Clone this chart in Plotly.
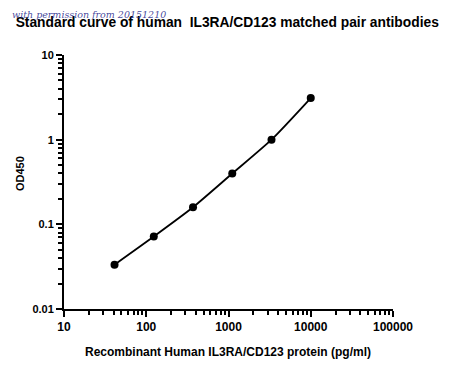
import plotly.graph_objects as go

conc = [41.15, 123.5, 370.4, 1111, 3333, 10000]
od450 = [0.0334, 0.0718, 0.159, 0.398, 1.0, 3.1]
x_ticks = [10, 100, 1000, 10000, 100000]
x_ticktext = ["10", "100", "1000", "10000", "100000"]
y_ticks = [0.01, 0.1, 1, 10]
y_ticktext = ["0.01", "0.1", "1", "10"]

FONT = "Liberation Sans, Arial, sans-serif"

fig = go.Figure()
fig.add_trace(go.Scatter(
    x=conc, y=od450, mode="lines+markers",
    line=dict(color="black", width=1.8, shape="spline", smoothing=0.6),
    marker=dict(color="black", size=8),
    showlegend=False,
))

fig.update_layout(
    width=450, height=365,
    margin=dict(l=64, r=57, t=55, b=56),
    paper_bgcolor="white", plot_bgcolor="white",
    font=dict(family=FONT, color="black"),
    title=dict(text="<b>Standard curve of human  IL3RA/CD123 matched pair antibodies</b>",
               x=0.505, xanchor="center", y=0.94, yanchor="middle",
               font=dict(size=13.8, family=FONT, color="black")),
)
fig.update_xaxes(
    type="log", range=[1, 5], automargin=False,
    tickvals=x_ticks, ticktext=x_ticktext,
    showline=True, linecolor="black", linewidth=2,
    ticks="outside", ticklen=6, tickwidth=2, tickcolor="black",
    minor=dict(ticks="outside", ticklen=4, tickwidth=1.5, tickcolor="black", dtick="D1", showgrid=False),
    showgrid=False, zeroline=False,
    tickfont=dict(size=12, family=FONT, color="black", weight="bold"),
)
fig.update_yaxes(
    type="log", range=[-2, 1], automargin=False,
    tickvals=y_ticks, ticktext=y_ticktext,
    showline=True, linecolor="black", linewidth=2,
    ticks="outside", ticklen=6, tickwidth=2, tickcolor="black",
    minor=dict(ticks="outside", ticklen=4, tickwidth=1.5, tickcolor="black", dtick="D1", showgrid=False),
    showgrid=False, zeroline=False,
    tickfont=dict(size=11, family=FONT, color="black", weight="bold"),
)

# axis titles
fig.add_annotation(
    text="<b>Recombinant Human IL3RA/CD123 protein (pg/ml)</b>",
    xref="paper", yref="paper", x=0.497, y=-0.171, xanchor="center", yanchor="middle",
    showarrow=False, font=dict(size=12, family=FONT, color="black"),
)
fig.add_annotation(
    text="<b>OD450</b>", textangle=-90,
    xref="paper", yref="paper", x=-0.134, y=0.535, xanchor="center", yanchor="middle",
    showarrow=False, font=dict(size=11, family=FONT, color="black"),
)

fig.add_annotation(
    text="<i>with permission from 20151210</i>",
    xref="paper", yref="paper", x=-0.165, y=1.16, xanchor="left", yanchor="middle",
    showarrow=False, font=dict(family="DejaVu Serif, serif", size=9.5, color="rgba(30,40,140,0.85)"),
)

fig.write_html("out.html")
